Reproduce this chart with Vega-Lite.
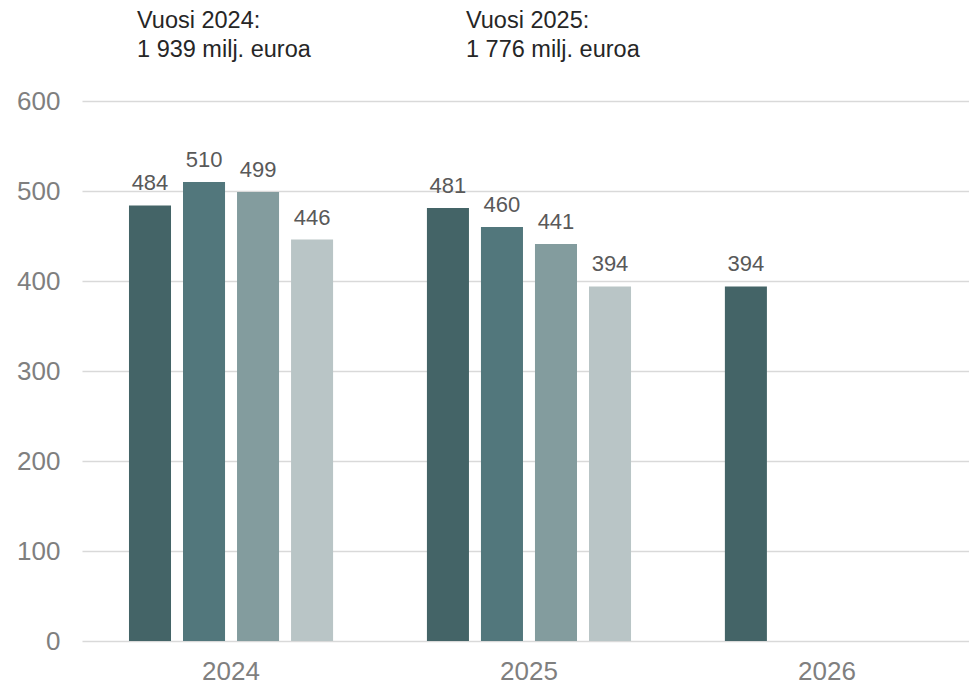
{
  "$schema": "https://vega.github.io/schema/vega-lite/v6.json",
  "width": 887,
  "height": 540,
  "autosize": {"type": "none"},
  "padding": {"left": 82, "top": 101, "right": 0, "bottom": 49},
  "config": {
    "view": {"stroke": null},
    "font": "Liberation Sans",
    "background": "white"
  },
  "datasets": {
    "bars": [
      {"year": "2024", "quarter": "Q1", "value": 484},
      {"year": "2024", "quarter": "Q2", "value": 510},
      {"year": "2024", "quarter": "Q3", "value": 499},
      {"year": "2024", "quarter": "Q4", "value": 446},
      {"year": "2025", "quarter": "Q1", "value": 481},
      {"year": "2025", "quarter": "Q2", "value": 460},
      {"year": "2025", "quarter": "Q3", "value": 441},
      {"year": "2025", "quarter": "Q4", "value": 394},
      {"year": "2026", "quarter": "Q1", "value": 394}
    ],
    "notes": [
      {"year": "2024", "pos": 681, "label": "Vuosi 2024:\n1 939 milj. euroa"},
      {"year": "2025", "pos": 681, "label": "Vuosi 2025:\n1 776 milj. euroa"}
    ]
  },
  "encoding": {
    "x": {
      "field": "year",
      "type": "nominal",
      "scale": {"domain": ["2024", "2025", "2026"], "paddingInner": 0.315, "paddingOuter": 0.146, "align": 0.54},
      "axis": {
        "title": null,
        "labelAngle": 0,
        "domain": false,
        "ticks": false,
        "tickSize": 0,
        "labelPadding": 17,
        "labelFontSize": 26,
        "labelColor": "#7f7f7f",
        "labelFont": "Liberation Sans"
      }
    }
  },
  "layer": [
    {
      "data": {"name": "bars"},
      "mark": {"type": "bar"},
      "encoding": {
        "xOffset": {"field": "quarter", "type": "nominal", "scale": {"domain": ["Q1", "Q2", "Q3", "Q4"], "paddingInner": 0.222, "paddingOuter": 0}},
        "y": {
          "field": "value",
          "type": "quantitative",
          "scale": {"domain": [0, 600], "nice": false},
          "axis": {
            "title": null,
            "values": [0, 100, 200, 300, 400, 500, 600],
            "domain": false,
            "ticks": false,
            "tickSize": 0,
            "labelPadding": 22,
            "labelFontSize": 26,
            "labelColor": "#7f7f7f",
            "gridColor": "#d9d9d9",
            "gridWidth": 1.3
          }
        },
        "color": {
          "field": "quarter",
          "type": "nominal",
          "scale": {"domain": ["Q1", "Q2", "Q3", "Q4"], "range": ["#446467", "#52777c", "#839c9e", "#b9c5c6"]},
          "legend": null
        }
      }
    },
    {
      "data": {"name": "bars"},
      "mark": {"type": "text", "baseline": "alphabetic", "dy": -15, "fontSize": 22, "color": "#595959"},
      "encoding": {
        "xOffset": {"field": "quarter", "type": "nominal", "scale": {"domain": ["Q1", "Q2", "Q3", "Q4"], "paddingInner": 0.222, "paddingOuter": 0}},
        "y": {"field": "value", "type": "quantitative"},
        "text": {"field": "value", "type": "quantitative"}
      }
    },
    {
      "data": {"name": "notes"},
      "transform": [{"filter": "datum.year === '2024'"}],
      "mark": {"type": "text", "align": "left", "baseline": "alphabetic", "dx": -94, "fontSize": 23.5, "lineHeight": 29, "color": "#262626", "lineBreak": "\n"},
      "encoding": {
        "y": {"field": "pos", "type": "quantitative"},
        "text": {"field": "label", "type": "nominal"}
      }
    },
    {
      "data": {"name": "notes"},
      "transform": [{"filter": "datum.year === '2025'"}],
      "mark": {"type": "text", "align": "left", "baseline": "alphabetic", "dx": -63, "fontSize": 23.5, "lineHeight": 29, "color": "#262626", "lineBreak": "\n"},
      "encoding": {
        "y": {"field": "pos", "type": "quantitative"},
        "text": {"field": "label", "type": "nominal"}
      }
    }
  ]
}
